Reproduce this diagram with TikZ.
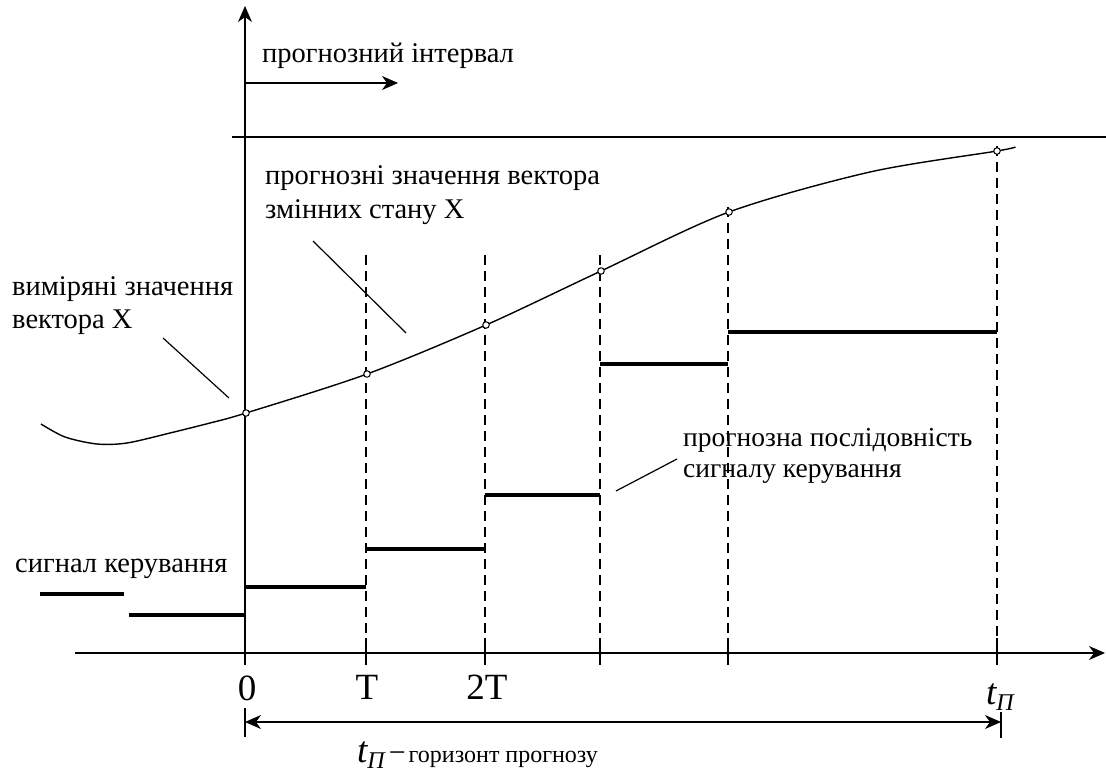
\documentclass[tikz,border=0pt]{standalone}
\usepackage{fontspec}
\setmainfont{Liberation Serif}
\usetikzlibrary{arrows.meta}
\begin{document}
\begin{tikzpicture}[x=1pt,y=-1pt,
  txt/.style={font=\fontsize{28.5}{34}\selectfont, inner sep=0pt, anchor=base west},
  lbl/.style={font=\fontsize{37}{40}\selectfont, inner sep=0pt, anchor=base},
  axisline/.style={line width=1.4pt},
  thinline/.style={line width=1.2pt},
  guide/.style={line width=1.3pt, dash pattern=on 10pt off 6pt},
  stepline/.style={line width=3.6pt},
  curveline/.style={line width=1.4pt},
  pt/.style={circle, draw, line width=1pt, fill=white, inner sep=0pt, minimum size=6.5pt},
  tip/.style={-{Stealth[length=16pt,width=14pt,inset=5pt]}}
]
\useasboundingbox (0,0) rectangle (1106,773);

% coordinates
\coordinate (vbot) at (245,665);
\coordinate (vtop) at (245,6);
\coordinate (hl) at (75,653);
\coordinate (hr) at (1105,653);
\coordinate (tl) at (232,137);
\coordinate (tr) at (1106,137);
\coordinate (ia) at (245,83);
\coordinate (ib) at (398,83);

% axes
\draw[axisline,tip] (vbot) -- (vtop);
\draw[axisline,tip] (hl) -- (hr);
\draw[thinline] (tl) -- (tr);
\draw[thinline,tip] (ia) -- (ib);

% state curve
\draw[curveline] plot[smooth, tension=0.5] coordinates {(41,424) (65,437) (97,444) (127,443) (170,433) (210,423) (246,413) (367,374) (486,325) (601,271) (729,212) (870,172) (997,151) (1015,147)};

% dashed verticals and ticks
\foreach \x/\yt in {366/255, 485/255, 600/255, 728/207, 997/146} {
  \coordinate (gt\x) at (\x,\yt);
  \coordinate (gb\x) at (\x,638);
  \coordinate (kb\x) at (\x,665);
  \draw[guide] (gt\x) -- (gb\x);
  \draw[thinline] (gb\x) -- (kb\x);
}

% points on curve
\node[pt] (p0) at (246,413) {};
\node[pt] (p1) at (367,374) {};
\node[pt] (p2) at (486,325) {};
\node[pt] (p3) at (601,271) {};
\node[pt] (p4) at (729,212) {};
\node[pt] (p5) at (997,151) {};

% control signal steps
\coordinate (s0a) at (129,615); \coordinate (s0b) at (245,615);
\coordinate (s1a) at (245,587); \coordinate (s1b) at (366,587);
\coordinate (s2a) at (366,549); \coordinate (s2b) at (485,549);
\coordinate (s3a) at (485,495); \coordinate (s3b) at (600,495);
\coordinate (s4a) at (600,364); \coordinate (s4b) at (728,364);
\coordinate (s5a) at (728,332); \coordinate (s5b) at (997,332);
\coordinate (sla) at (40,594); \coordinate (slb) at (124,594);
\foreach \s in {0,1,2,3,4,5,l} { \draw[stepline] (s\s a) -- (s\s b); }

% leader lines
\coordinate (la1) at (163,338); \coordinate (lb1) at (229,398);
\coordinate (la2) at (313,241); \coordinate (lb2) at (406,333);
\coordinate (la3) at (616,491); \coordinate (lb3) at (677,459);
\draw[thinline] (la1) -- (lb1);
\draw[thinline] (la2) -- (lb2);
\draw[thinline] (la3) -- (lb3);

% texts
\node[txt] (tint) at (262,63) {прогнозний інтервал};
\node[txt] (tfa) at (265,185) {прогнозні значення вектора};
\node[txt] (tfb) at (265,218) {змінних стану X};
\node[txt] (tma) at (12,295) {виміряні значення};
\node[txt] (tmb) at (12,328) {вектора X};
\node[txt, font=\fontsize{27.5}{34}\selectfont] (tpa) at (683,446) {прогнозна послідовність};
\node[txt, font=\fontsize{27.5}{34}\selectfont] (tpb) at (683,477) {сигналу керування};
\node[txt] (tsig) at (15,572) {сигнал керування};

% axis labels
\node[lbl] (l0) at (247,700) {0};
\node[lbl] (lT) at (367,699) {T};
\node[lbl] (l2T) at (487,699) {2T};
\node[lbl, anchor=base west] (ltp) at (986,704) {\itshape t\fontsize{24}{26}\selectfont\raisebox{-6pt}{П}};

% horizon arrow
\coordinate (ha) at (245,722); \coordinate (hb) at (1001,722);
\draw[thinline] (245,708) -- (245,737);
\draw[thinline] (1001,712) -- (1001,738);
\draw[thinline,{Stealth[length=16pt,width=14pt,inset=5pt]}-{Stealth[length=16pt,width=14pt,inset=5pt]}] (ha) -- (hb);
\node[inner sep=0pt, anchor=base west] (hlabel) at (357,762) {{\fontsize{37}{40}\selectfont\itshape t}{\fontsize{24}{26}\selectfont\itshape\raisebox{-6pt}{П}}\hspace{4pt}{\fontsize{30}{30}\selectfont −}\hspace{3pt}{\fontsize{24}{28}\selectfont горизонт прогнозу}};
\end{tikzpicture}
\end{document}
